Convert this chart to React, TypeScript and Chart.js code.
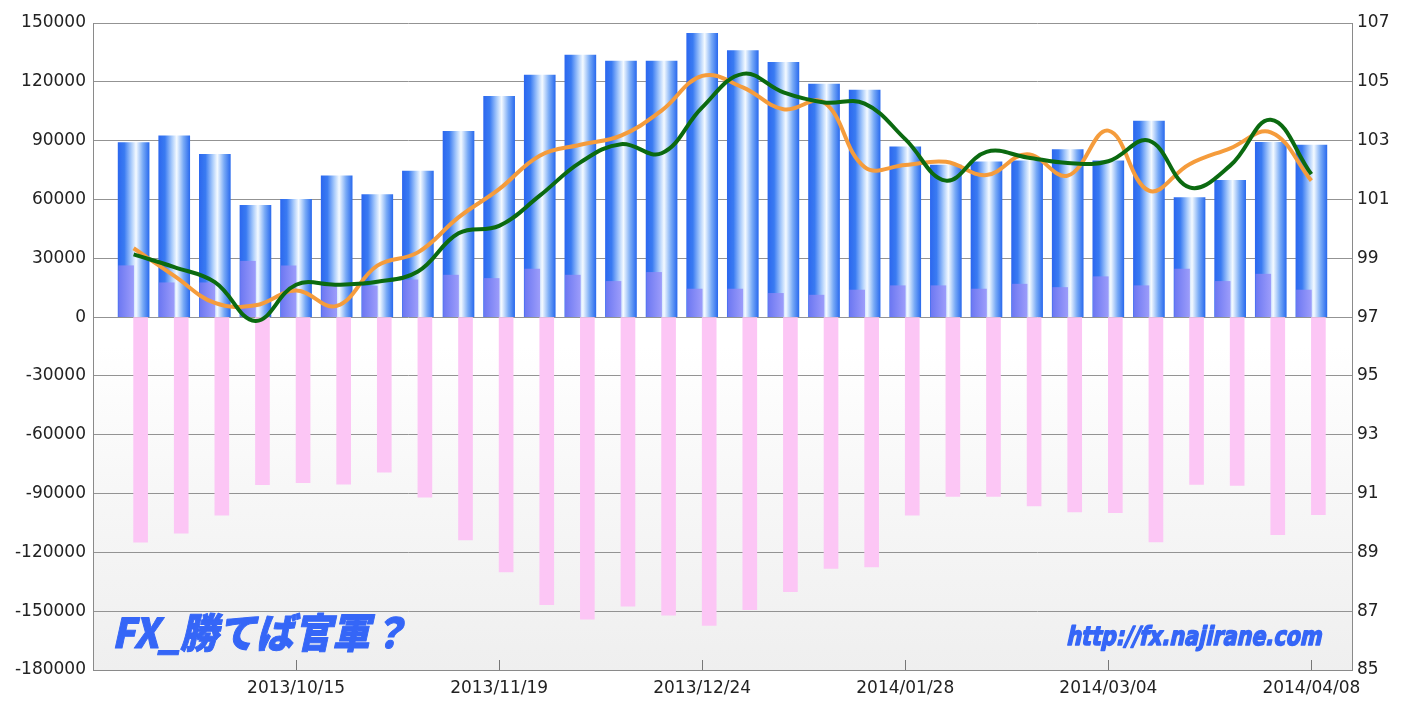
import React, { useEffect, useRef } from 'react';
import { Chart, registerables } from 'chart.js';

Chart.register(...registerables);

// ---- data ----
const weeks = [
  '2013/09/17', '2013/09/24', '2013/10/01', '2013/10/08', '2013/10/15',
  '2013/10/22', '2013/10/29', '2013/11/05', '2013/11/12', '2013/11/19',
  '2013/11/26', '2013/12/03', '2013/12/10', '2013/12/17', '2013/12/24',
  '2013/12/31', '2014/01/07', '2014/01/14', '2014/01/21', '2014/01/28',
  '2014/02/04', '2014/02/11', '2014/02/18', '2014/02/25', '2014/03/04',
  '2014/03/11', '2014/03/18', '2014/03/25', '2014/04/01', '2014/04/08',
];
const tickDates = ['2013/10/15', '2013/11/19', '2013/12/24', '2014/01/28', '2014/03/04', '2014/04/08'];

const totalBars = [
  89000, 92500, 83000, 57000, 60000, 72000, 62500, 74500, 94800, 112600,
  123500, 133700, 130600, 130600, 144700, 135900, 129900, 118900, 115800, 86900,
  77500, 79200, 79700, 85400, 79700, 100000, 61000, 69700, 89100, 87700,
];
const longBars = [
  26200, 17500, 17500, 28500, 26200, 16000, 15800, 19000, 21400, 19700,
  24500, 21400, 18200, 22800, 14300, 14300, 12100, 11200, 13800, 16000,
  16000, 14300, 16800, 15100, 20600, 16000, 24500, 18200, 21900, 13800,
];
const shortBars = [
  -114800, -110200, -101000, -85500, -84500, -85200, -79100, -91800, -113600, -130000,
  -146700, -154100, -147400, -152000, -157300, -149200, -140000, -128200, -127400, -101000,
  -91500, -91500, -96300, -99400, -99800, -114700, -85400, -85900, -111000, -100800,
];
const greenLine = [
  99.13, 98.7, 98.19, 96.87, 98.1, 98.1, 98.2, 98.55, 99.85, 100.1,
  101.13, 102.26, 102.88, 102.57, 104.13, 105.27, 104.64, 104.3, 104.26, 103.05,
  101.64, 102.62, 102.43, 102.24, 102.3, 103.0, 101.41, 102.15, 103.71, 101.86,
];
const orangeLine = [
  99.34, 98.4, 97.48, 97.4, 97.9, 97.38, 98.75, 99.2, 100.39, 101.35,
  102.49, 102.86, 103.17, 104.02, 105.2, 104.81, 104.07, 104.3, 102.1, 102.17,
  102.28, 101.83, 102.54, 101.81, 103.34, 101.3, 102.2, 102.74, 103.28, 101.64,
];

const leftMin = -180000;
const leftMax = 150000;
const leftStep = 30000;
const rightMin = 85;
const rightMax = 107;
const rightStep = 2;

const titleMark = 'FX_勝てば官軍？';
const urlMark = 'http://fx.najirane.com';

// ---- helpers ----
const labels = ['', ...weeks, ''];
const pad = (arr: number[]) => [null, ...arr, null];

const BLUE_W = 31;
const PURPLE_W = 15;
const PINK_W = 14;

function centerOf(ctx: any): number | null {
  const chart = ctx.chart;
  const xs = chart && chart.scales && chart.scales.x;
  if (!xs || ctx.dataIndex == null) return null;
  const cx = xs.getPixelForValue(ctx.dataIndex);
  return Number.isFinite(cx) ? cx : null;
}

function blueFill(ctx: any) {
  const cx = centerOf(ctx);
  if (cx == null) return '#3376ee';
  const g = ctx.chart.ctx.createLinearGradient(cx - BLUE_W / 2, 0, cx + BLUE_W / 2, 0);
  g.addColorStop(0, '#2c68ef');
  g.addColorStop(0.2, '#3a7bf2');
  g.addColorStop(0.42, '#a6c9fb');
  g.addColorStop(0.58, '#f4faff');
  g.addColorStop(0.8, '#78aaf6');
  g.addColorStop(1, '#2c6cee');
  return g;
}

function purpleFill(ctx: any) {
  const cx = centerOf(ctx);
  if (cx == null) return '#8585f4';
  const g = ctx.chart.ctx.createLinearGradient(cx - PURPLE_W, 0, cx, 0);
  g.addColorStop(0, '#6c78f2');
  g.addColorStop(1, '#9c9cfa');
  return g;
}

const decoPlugin = {
  id: 'deco',
  beforeDraw(chart: any) {
    const { ctx, chartArea } = chart;
    if (!chartArea || !Number.isFinite(chartArea.top) || !Number.isFinite(chartArea.bottom)) return;
    ctx.save();
    ctx.fillStyle = '#ffffff';
    ctx.fillRect(0, 0, chart.width, chart.height);
    const g = ctx.createLinearGradient(0, chartArea.top, 0, chartArea.bottom);
    g.addColorStop(0, '#ffffff');
    g.addColorStop(0.5, '#ffffff');
    g.addColorStop(0.72, '#f7f7f7');
    g.addColorStop(1, '#efefef');
    ctx.fillStyle = g;
    ctx.fillRect(chartArea.left, chartArea.top, chartArea.right - chartArea.left, chartArea.bottom - chartArea.top);
    ctx.restore();
  },
  afterDraw(chart: any) {
    const { ctx, chartArea } = chart;
    const xs = chart.scales.x;
    if (!chartArea || !xs) return;
    ctx.save();
    // inward tick marks
    ctx.strokeStyle = '#777777';
    ctx.lineWidth = 1;
    tickDates.forEach((d) => {
      const i = labels.indexOf(d);
      const px = xs.getPixelForValue(i);
      if (!Number.isFinite(px)) return;
      const x = Math.round(px) + 0.5;
      ctx.beginPath();
      ctx.moveTo(x, chartArea.bottom);
      ctx.lineTo(x, chartArea.bottom - 10);
      ctx.stroke();
    });
    // watermark texts
    const drawSkewed = (text: string, font: string, left: number, baseline: number, width: number, stroke: number) => {
      ctx.save();
      ctx.font = font;
      const w = ctx.measureText(text).width || width;
      ctx.translate(left, baseline);
      ctx.transform(1, 0, -0.22, 1, 0, 0);
      ctx.scale(width / w, 1);
      ctx.fillStyle = '#3566f7';
      ctx.strokeStyle = '#3566f7';
      ctx.lineWidth = stroke;
      ctx.lineJoin = 'round';
      ctx.textBaseline = 'alphabetic';
      ctx.textAlign = 'left';
      ctx.fillText(text, 0, 0);
      if (stroke > 0) ctx.strokeText(text, 0, 0);
      ctx.restore();
    };
    drawSkewed(titleMark, '900 41px "Noto Sans CJK JP"', 112, 648, 296, 1);
    drawSkewed(urlMark, 'bold 26px "DejaVu Sans"', 1066, 645, 255, 1.6);
    ctx.restore();
  },
};

export default function App() {
  const ref = useRef<HTMLCanvasElement | null>(null);

  useEffect(() => {
    if (!ref.current) return;
    const tickFont = { family: '"DejaVu Sans", sans-serif', size: 17 };
    const chart = new Chart(ref.current, {
      type: 'bar',
      data: {
        labels,
        datasets: [
          {
            type: 'line',
            label: 'green',
            data: pad(greenLine),
            yAxisID: 'y1',
            borderColor: '#0b6a10',
            borderWidth: 4,
            pointRadius: 0,
            tension: 0.4,
            fill: false,
            order: 0,
          } as any,
          {
            type: 'line',
            label: 'orange',
            data: pad(orangeLine),
            yAxisID: 'y1',
            borderColor: '#f59c3c',
            borderWidth: 4,
            pointRadius: 0,
            tension: 0.4,
            fill: false,
            order: 1,
          } as any,
          {
            type: 'bar',
            label: 'long',
            data: pad(longBars),
            yAxisID: 'y',
            backgroundColor: purpleFill,
            barThickness: PURPLE_W,
            order: 2,
          } as any,
          {
            type: 'bar',
            label: 'short',
            data: pad(shortBars),
            yAxisID: 'y',
            backgroundColor: '#fcc6f5',
            barThickness: PINK_W,
            order: 3,
          } as any,
          {
            type: 'bar',
            label: 'total',
            data: pad(totalBars),
            yAxisID: 'y',
            backgroundColor: blueFill,
            barThickness: BLUE_W,
            grouped: false,
            order: 4,
          } as any,
        ],
      },
      options: {
        responsive: false,
        animation: false,
        events: [],
        layout: { padding: { top: 23, left: 0, right: 0, bottom: 0 } },
        plugins: {
          legend: { display: false },
          tooltip: { enabled: false },
          title: { display: false },
        },
        scales: {
          x: {
            type: 'category',
            offset: false,
            grid: { display: false, drawTicks: false },
            border: { display: true, color: '#8a8a8a', width: 1 },
            ticks: {
              autoSkip: false,
              maxRotation: 0,
              minRotation: 0,
              padding: 8,
              color: '#222222',
              font: tickFont,
              callback: (_v: any, i: number) => (tickDates.includes(labels[i]) ? labels[i] : ''),
            },
            afterFit: (s: any) => {
              s.height = 32;
            },
          },
          y: {
            position: 'left',
            min: leftMin,
            max: leftMax,
            grid: { color: '#939393', lineWidth: 1, drawTicks: false },
            border: { display: true, color: '#8a8a8a', width: 1 },
            ticks: {
              stepSize: leftStep,
              padding: 7,
              color: '#222222',
              font: tickFont,
              callback: (v: any) => String(v),
            },
            afterFit: (s: any) => {
              s.width = 93;
            },
          },
          y1: {
            position: 'right',
            min: rightMin,
            max: rightMax,
            grid: { display: false, drawTicks: false },
            border: { display: true, color: '#8a8a8a', width: 1 },
            ticks: {
              stepSize: rightStep,
              padding: 5,
              color: '#222222',
              font: tickFont,
              callback: (v: any) => String(v),
            },
            afterFit: (s: any) => {
              s.width = 55;
            },
          },
        },
      } as any,
      plugins: [decoPlugin],
    });
    return () => chart.destroy();
  }, []);

  return (
    <canvas
      ref={ref}
      width={1407}
      height={702}
      style={{ position: 'absolute', left: 0, top: 0, width: 1407, height: 702 }}
    />
  );
}
